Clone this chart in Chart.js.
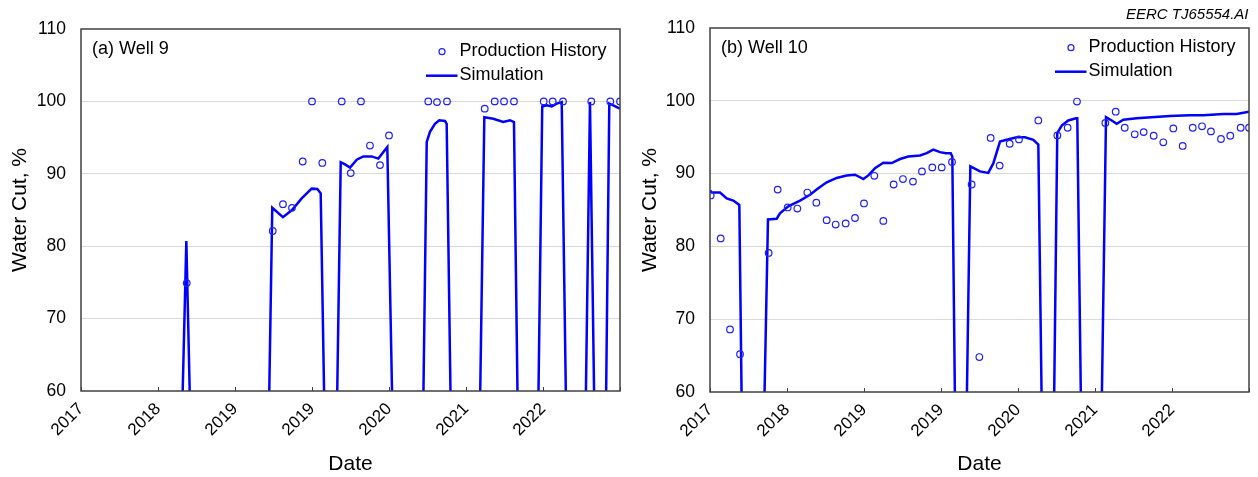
<!DOCTYPE html>
<html>
<head>
<meta charset="utf-8">
<script src="https://cdn.jsdelivr.net/npm/chart.js@4.4.1/dist/chart.umd.min.js"></script>
<style>
  html, body { margin: 0; padding: 0; background: #fff; }
  #wrap { position: relative; width: 1258px; height: 477px; overflow: hidden; background: #fff; }
  canvas { position: absolute; top: 0; }
</style>
</head>
<body>
<div id="wrap">
  <canvas id="well9" width="630" height="477" style="left:0px"></canvas>
  <canvas id="well10" width="628" height="477" style="left:630px"></canvas>
</div>
<script>
// Date axis: 7 equal intervals, positions expressed in tick intervals (0..7)
const tickLabels = ['2017', '2018', '2019', '2019', '2020', '2021', '2022', ''];

// Well 9 – measured water cut (%)
const well9HistT  = [1.373, 2.490, 2.623, 2.740, 2.879, 3.000, 3.134, 3.386, 3.503, 3.636, 3.753, 3.883, 4.000,
                     4.510, 4.623, 4.753, 5.243, 5.373, 5.494, 5.623, 6.009, 6.126, 6.260, 6.627, 6.874, 7.000];
const well9HistWC = [74.9, 82.1, 85.8, 85.3, 91.7, 100, 91.5, 100, 90.1, 100, 93.9, 91.2, 95.3,
                     100, 99.9, 100, 99.0, 100, 100, 100, 100, 100, 100, 100, 100, 100];

// Well 9 – simulated water cut (%); 58 = shut in, below the plotted range
const well9SimT  = [0, 1.316, 1.368, 1.416,
                    2.442, 2.484, 2.623, 2.740, 2.866, 2.996, 3.069, 3.113, 3.160,
                    3.325, 3.373, 3.429, 3.494, 3.581, 3.666, 3.775, 3.861, 3.978, 4.043,
                    4.445, 4.490, 4.532, 4.597, 4.653, 4.727, 4.749, 4.801,
                    5.182, 5.238, 5.355, 5.484, 5.571, 5.623, 5.671,
                    5.939, 5.990, 6.048, 6.113, 6.178, 6.243, 6.299,
                    6.555, 6.610, 6.666,
                    6.818, 6.861, 6.913, 6.978, 7.000];
const well9SimWC = [58, 58, 80.7, 58,
                    58, 85.3, 84.0, 85.0, 86.6, 87.95, 87.9, 87.3, 58,
                    58, 91.6, 91.3, 90.85, 91.95, 92.4, 92.4, 92.1, 93.7, 58,
                    58, 94.4, 95.8, 96.9, 97.4, 97.3, 96.9, 58,
                    58, 97.8, 97.6, 97.15, 97.4, 97.15, 58,
                    58, 99.3, 99.45, 99.3, 99.7, 99.9, 58,
                    58, 99.9, 58,
                    58, 99.7, 99.45, 99.1, 99.0];

// Well 10 – measured water cut (%)
const well10HistT  = [0.009, 0.139, 0.260, 0.390, 0.762, 0.879, 1.009, 1.134, 1.264, 1.381,
                      1.515, 1.632, 1.762, 1.883, 2.000, 2.134, 2.251, 2.385, 2.506, 2.636,
                      2.753, 2.887, 3.009, 3.143, 3.398, 3.498, 3.645, 3.762, 3.892, 4.013,
                      4.264, 4.511, 4.645, 4.766, 5.134, 5.269, 5.386, 5.516, 5.632, 5.762,
                      5.887, 6.017, 6.139, 6.269, 6.390, 6.506, 6.636, 6.757, 6.892, 7.000];
const well10HistWC = [87.0, 81.1, 68.6, 65.2, 79.1, 87.8, 85.35, 85.2, 87.4, 86.0,
                      83.6, 83.0, 83.15, 83.9, 85.9, 89.7, 83.5, 88.5, 89.25, 88.9,
                      90.3, 90.85, 90.85, 91.6, 88.5, 64.8, 94.9, 91.1, 94.1, 94.7,
                      97.3, 95.25, 96.3, 99.9, 96.95, 98.5, 96.3, 95.4, 95.7, 95.2,
                      94.3, 96.2, 93.8, 96.3, 96.5, 95.8, 94.75, 95.2, 96.3, 96.3];

// Well 10 – simulated water cut (%); 58 = shut in, below the plotted range
const well10SimT  = [0, 0.022, 0.130, 0.217, 0.303, 0.381, 0.412,
                     0.705, 0.753, 0.866, 0.909, 1.017, 1.169, 1.299, 1.406, 1.516, 1.645, 1.775, 1.883,
                     1.948, 1.991, 2.056, 2.143, 2.251, 2.360, 2.468, 2.575, 2.727, 2.814, 2.900, 2.987,
                     3.065, 3.126, 3.147, 3.182,
                     3.334, 3.381, 3.506, 3.614, 3.679, 3.766, 3.853, 3.983, 4.091, 4.199, 4.264, 4.308,
                     4.468, 4.510, 4.568, 4.653, 4.753, 4.770, 4.818,
                     5.087, 5.143, 5.217, 5.282, 5.368, 5.541, 5.974, 6.234, 6.406, 6.666, 6.840, 7.000];
const well10SimWC = [87.7, 87.4, 87.4, 86.6, 86.3, 85.7, 58,
                     58, 83.7, 83.8, 84.55, 85.5, 86.3, 87.1, 88.0, 88.8, 89.4, 89.75, 89.85,
                     89.5, 89.25, 89.75, 90.75, 91.5, 91.45, 92.0, 92.35, 92.5, 92.8, 93.3, 92.95,
                     92.8, 92.8, 92.35, 58,
                     58, 91.0, 90.3, 90.1, 91.4, 94.4, 94.65, 95.0, 95.0, 94.65, 94.0, 58,
                     58, 95.55, 96.6, 97.3, 97.6, 97.6, 58,
                     58, 97.75, 97.3, 96.85, 97.4, 97.6, 97.9, 98.0, 98.0, 98.2, 98.2, 98.5];

const FONT = "'Liberation Sans', Arial, Helvetica, sans-serif";
const LINE_BLUE = '#0000ff';
const DOT_BLUE = '#2020ff';
const FRAME = '#404040';

const toPoints = (xs, ys) => xs.map((x, i) => ({ x, y: ys[i] }));

// Frame, inward date ticks, panel label, in-plot legend and drawing stamp
const decorPlugin = {
  id: 'decor',
  afterDatasetsDraw(chart, args, o) {
    const { ctx, chartArea: a, scales: { x } } = chart;
    ctx.save();
    ctx.strokeStyle = FRAME;
    ctx.lineWidth = 1;
    x.ticks.forEach(t => {
      const px = Math.round(x.getPixelForValue(t.value)) + 0.5;
      ctx.beginPath();
      ctx.moveTo(px, a.bottom);
      ctx.lineTo(px, a.bottom - 4);
      ctx.stroke();
    });
    ctx.lineWidth = 1.5;
    ctx.strokeRect(a.left, a.top, a.right - a.left, a.bottom - a.top);

    // panel label
    ctx.fillStyle = '#000';
    ctx.textBaseline = 'middle';
    ctx.textAlign = 'left';
    ctx.font = '18px ' + FONT;
    ctx.fillText(o.label, a.left + 11, a.top + 20);

    // legend
    const ly = a.top + o.legendTop;
    ctx.strokeStyle = DOT_BLUE;
    ctx.lineWidth = 1.2;
    ctx.beginPath();
    ctx.arc(a.right - 178, ly + 1, 3, 0, Math.PI * 2);
    ctx.stroke();
    ctx.fillText('Production History', a.right - 160.5, ly);
    ctx.strokeStyle = LINE_BLUE;
    ctx.lineWidth = 2.5;
    ctx.beginPath();
    ctx.moveTo(a.right - 194, ly + 25);
    ctx.lineTo(a.right - 162.5, ly + 25);
    ctx.stroke();
    ctx.fillText('Simulation', a.right - 160.5, ly + 24.5);

    if (o.stamp) {
      ctx.font = 'italic 15px ' + FONT;
      ctx.textAlign = 'right';
      ctx.fillText(o.stamp, a.right - 0.5, 15);
    }
    ctx.restore();
  }
};

function makeChart(id, histT, histWC, simT, simWC, d) {
  return new Chart(document.getElementById(id), {
    type: 'scatter',
    data: {
      datasets: [
        {
          label: 'Production History',
          data: toPoints(histT, histWC),
          showLine: false,
          pointStyle: 'circle',
          pointRadius: 3.3,
          pointBorderWidth: 1.2,
          pointBorderColor: DOT_BLUE,
          pointBackgroundColor: 'rgba(0,0,0,0)',
          order: 0
        },
        {
          label: 'Simulation',
          data: toPoints(simT, simWC),
          showLine: true,
          borderColor: LINE_BLUE,
          borderWidth: 2.5,
          pointRadius: 0,
          tension: 0,
          order: 1
        }
      ]
    },
    options: {
      responsive: false,
      animation: false,
      events: [],
      layout: { padding: { left: 0, top: d.top, right: d.right, bottom: 0 } },
      plugins: {
        legend: { display: false },
        tooltip: { enabled: false },
        decor: { label: d.label, legendTop: d.legendTop, stamp: d.stamp }
      },
      scales: {
        x: {
          type: 'linear',
          min: 0,
          max: 7,
          afterBuildTicks: s => { s.ticks = tickLabels.map((_, i) => ({ value: i })); },
          afterFit: s => {
            s.height = d.xAxisHeight;
            s.paddingLeft = 0;
            s.paddingRight = 0;
          },
          grid: { display: false, drawTicks: false },
          border: { display: false },
          ticks: {
            autoSkip: false,
            maxRotation: 45,
            minRotation: 45,
            padding: 8,
            color: '#000',
            font: { family: FONT, size: 17 },
            callback: v => tickLabels[Math.round(v)]
          },
          title: {
            display: true,
            text: 'Date',
            color: '#000',
            font: { family: FONT, size: 21 },
            padding: { top: 0, bottom: 0 }
          }
        },
        y: {
          type: 'linear',
          min: 60,
          max: 110,
          afterFit: s => {
            s.width = d.yAxisWidth;
            s.paddingTop = 0;
            s.paddingBottom = 0;
          },
          grid: {
            color: '#d9d9d9',
            drawTicks: false,
            lineWidth: c => (c.tick && (c.tick.value === 60 || c.tick.value === 110)) ? 0 : 1
          },
          border: { display: false },
          ticks: {
            stepSize: 10,
            padding: 15,
            color: '#000',
            font: { family: FONT, size: 17.5 }
          },
          title: {
            display: true,
            text: 'Water Cut, %',
            color: '#000',
            font: { family: FONT, size: 21 },
            padding: { top: 8, bottom: 0 }
          }
        }
      }
    },
    plugins: [decorPlugin]
  });
}

makeChart('well9', well9HistT, well9HistWC, well9SimT, well9SimWC,
  { top: 29, right: 10, xAxisHeight: 86, yAxisWidth: 81, label: '(a) Well 9', legendTop: 21.7 });
makeChart('well10', well10HistT, well10HistWC, well10SimT, well10SimWC,
  { top: 28, right: 9, xAxisHeight: 85, yAxisWidth: 80, label: '(b) Well 10', legendTop: 18.7, stamp: 'EERC TJ65554.AI' });
</script>
</body>
</html>
